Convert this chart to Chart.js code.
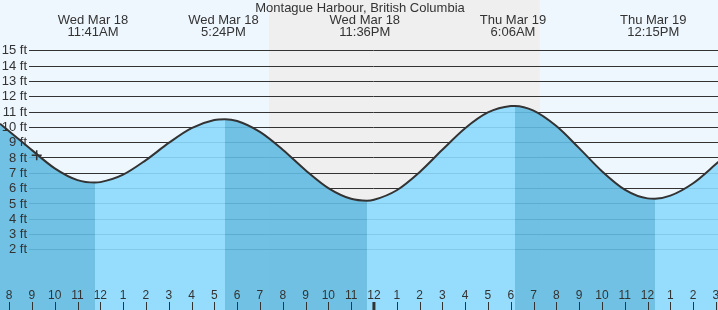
<!DOCTYPE html>
<html>
<head>
<meta charset="utf-8">
<script src="https://cdn.jsdelivr.net/npm/chart.js@4/dist/chart.umd.min.js"></script>
<style>
  html, body { margin: 0; padding: 0; background: #eef7fe; }
  canvas { display: block; }
</style>
</head>
<body>
<canvas id="tide" width="718" height="310"></canvas>
<script>
  // hours counted from Wed Mar 18 00:00
  let tideHours = [7.6, 8, 9, 10, 11, 11.7665, 12, 13, 14, 15, 16, 17, 17.468, 18, 19, 20, 21, 22, 23, 23.6959,
    24, 25, 26, 27, 28, 29, 30, 30.1868, 31, 32, 33, 34, 35, 36, 36.327, 37, 38, 39, 39.2];
  let tideFeet = [10.2, 9.72, 8.48, 7.29, 6.52, 6.36, 6.39, 6.88, 7.83, 8.95, 9.92, 10.45, 10.5, 10.38, 9.67, 8.51, 7.17, 6.0, 5.3, 5.18,
    5.24, 5.86, 7.04, 8.5, 9.91, 10.94, 11.36, 11.37, 11.06, 10.05, 8.61, 7.1, 5.9, 5.33, 5.31, 5.51, 6.32, 7.57, 7.83];

  let eventHours = [11.68, 17.4, 23.6, 30.1, 36.25];
  let eventDays = ['Wed Mar 18', 'Wed Mar 18', 'Wed Mar 18', 'Thu Mar 19', 'Thu Mar 19'];
  let eventTimes = ['11:41AM', '5:24PM', '11:36PM', '6:06AM', '12:15PM'];

  let nowHour = 9.21;
  let nowFeet = 8.15;

  let nightStart = 19.4;
  let nightEnd = 31.28;

  let feetTicks = [2, 3, 4, 5, 6, 7, 8, 9, 10, 11, 12, 13, 14, 15];
  let hourTicks = [8, 9, 10, 11, 12, 13, 14, 15, 16, 17, 18, 19, 20, 21, 22, 23, 24, 25, 26, 27, 28, 29, 30, 31, 32, 33, 34, 35, 36, 37, 38, 39];
  let hourLabels = ['8', '9', '10', '11', '12', '1', '2', '3', '4', '5', '6', '7', '8', '9', '10', '11',
    '12', '1', '2', '3', '4', '5', '6', '7', '8', '9', '10', '11', '12', '1', '2', '3'];

  let title = 'Montague Harbour, British Columbia';
  let font = "'Liberation Sans', Arial, sans-serif";
  let textColor = '#333';

  let tideDecor = {
    id: 'tideDecor',
    beforeDraw(chart) {
      let c = chart.ctx, x = chart.scales.x, a = chart.chartArea;
      c.save();
      c.fillStyle = '#eef7fe';
      c.fillRect(a.left, a.top, a.right - a.left, a.bottom - a.top);
      c.fillStyle = '#efefef';
      let x0 = x.getPixelForValue(nightStart), x1 = x.getPixelForValue(nightEnd);
      c.fillRect(x0, a.top, x1 - x0, a.bottom - a.top);
      c.restore();
    },
    beforeDatasetsDraw(chart) {
      let c = chart.ctx, y = chart.scales.y, a = chart.chartArea;
      c.save();
      c.strokeStyle = '#333';
      c.lineWidth = 1;
      feetTicks.forEach(v => {
        let py = Math.round(y.getPixelForValue(v)) + 0.5;
        c.beginPath();
        c.moveTo(29, py);
        c.lineTo(a.right, py);
        c.stroke();
      });
      c.restore();
    },
    afterDatasetsDraw(chart) {
      let c = chart.ctx, x = chart.scales.x, y = chart.scales.y, a = chart.chartArea;
      c.save();
      c.fillStyle = textColor;
      c.strokeStyle = textColor;

      // depth labels
      c.font = '13px ' + font;
      c.textAlign = 'right';
      c.textBaseline = 'middle';
      feetTicks.forEach(v => {
        c.fillText(v + ' ft', 27, y.getPixelForValue(v) + 0.5);
      });

      // hour labels and ticks
      c.font = '12px ' + font;
      c.textAlign = 'center';
      hourTicks.forEach((h, i) => {
        let px = x.getPixelForValue(h);
        c.fillText(hourLabels[i], px, 296);
        c.lineWidth = h === 24 ? 3 : 1;
        let sx = h === 24 ? px : Math.round(px) + 0.5;
        c.beginPath();
        c.moveTo(sx, 302);
        c.lineTo(sx, a.bottom);
        c.stroke();
      });

      // header
      c.font = '13px ' + font;
      c.fillText(title, 360, 8);
      eventHours.forEach((h, i) => {
        let px = x.getPixelForValue(h);
        c.fillText(eventDays[i], px, 20);
        c.fillText(eventTimes[i], px, 32);
      });
      c.restore();
    }
  };

  let ctx = document.getElementById('tide').getContext('2d');
  let chart = new Chart(ctx, {
    type: 'line',
    data: {
      datasets: [{
        data: tideHours.map((h, i) => ({ x: h, y: tideFeet[i] })),
        order: 1,
        borderColor: '#333',
        borderWidth: 2,
        pointRadius: 0,
        cubicInterpolationMode: 'monotone',
        fill: 'start',
        backgroundColor: 'rgba(98, 186, 225, 0.9)',
        segment: {
          backgroundColor: s => s.p1.parsed.y > s.p0.parsed.y ? 'rgba(140, 217, 253, 0.9)' : 'rgba(98, 186, 225, 0.9)'
        }
      }, {
        type: 'scatter',
        data: [{ x: nowHour, y: nowFeet }],
        order: 0,
        pointStyle: 'cross',
        pointRadius: 5,
        borderColor: '#333',
        borderWidth: 1.5
      }]
    },
    options: {
      responsive: false,
      animation: false,
      events: [],
      layout: { padding: 0, autoPadding: false },
      plugins: { legend: { display: false }, tooltip: { enabled: false } },
      scales: {
        x: { type: 'linear', display: false, min: 7.6, max: 39.09 },
        y: { display: false, min: -1.96, max: 18.285 }
      }
    },
    plugins: [tideDecor]
  });
</script>
</body>
</html>
